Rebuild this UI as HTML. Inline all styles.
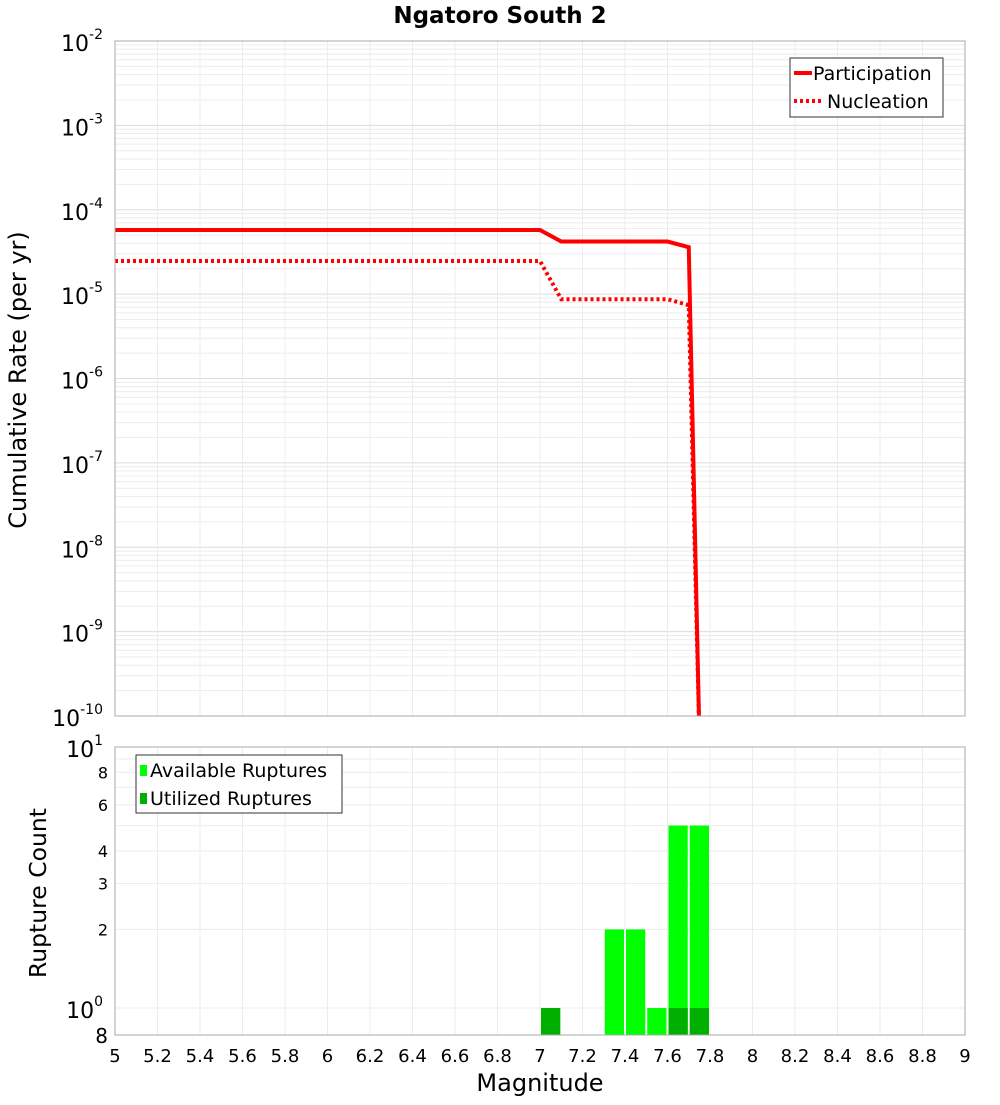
<!DOCTYPE html>
<html><head><meta charset="utf-8"><style>
body{margin:0;background:#fff;font-family:"Liberation Sans","DejaVu Sans",sans-serif}
svg text{font-family:"DejaVu Sans","Liberation Sans",sans-serif}
</style></head><body>
<svg id="c" width="1000" height="1100" xmlns="http://www.w3.org/2000/svg">
<text x="500" y="23" text-anchor="middle" font-size="23" font-weight="bold">Ngatoro South 2</text>
<g id="topg"></g>
<g id="bot"></g>
<text transform="translate(26,380) rotate(-90)" text-anchor="middle" font-size="24">Cumulative Rate (per yr)</text>
<text transform="translate(46,893) rotate(-90)" text-anchor="middle" font-size="23.5">Rupture Count</text>
<text x="540" y="1091" text-anchor="middle" font-size="24">Magnitude</text>
</svg>
<script>
const partMags=[5,7.0,7.1,7.6,7.7,7.75];
const partRates=[5.75e-5,5.75e-5,4.2e-5,4.2e-5,3.6e-5,1e-11];
const nuclMags=[5,7.0,7.1,7.6,7.7,7.75];
const nuclRates=[2.47e-5,2.47e-5,8.7e-6,8.7e-6,7.4e-6,1e-11];
const binCenters=[7.05,7.35,7.45,7.55,7.65,7.75];
const availCounts=[1,2,2,1,5,5];
const utilCounts=[1,0,0,0,1,1];
const xTicks=[5,5.2,5.4,5.6,5.8,6,6.2,6.4,6.6,6.8,7,7.2,7.4,7.6,7.8,8,8.2,8.4,8.6,8.8,9];
const topExps=[-10,-9,-8,-7,-6,-5,-4,-3,-2];
const NS="http://www.w3.org/2000/svg";
const X0=115,X1=965,TY0=41,TY1=716,BY0=747,BY1=1035;
const xs=m=>X0+(m-5)/4*(X1-X0);
const yt=v=>TY0+(-2-Math.log10(v))*(TY1-TY0)/8;
const yb=v=>1008-Math.log10(v)*261;
function el(p,t,a){const e=document.createElementNS(NS,t);for(const k in a)e.setAttribute(k,a[k]);p.appendChild(e);return e;}
const topG=document.getElementById('topg'),bot=document.getElementById('bot');
for(let e=-10;e<-2;e++)for(let k=1;k<10;k++){const y=yt(k*Math.pow(10,e));const g=el(topG,'line',{x1:X0,x2:X1,y1:y,y2:y,stroke:k==1?'#dcdcdc':'#ececec','stroke-width':1});

}
xTicks.forEach(m=>{const g=el(topG,'line',{x1:xs(m),x2:xs(m),y1:TY0,y2:TY1,stroke:'#ececec'});

});
topExps.forEach(e=>{const y=yt(Math.pow(10,e));const t=el(topG,'text',{x:103,y:y+10,'text-anchor':'end','font-size':22});


t.innerHTML='10<tspan dy="-12" font-size="14">'+e+'</tspan>';});
const defs=el(topG,'defs',{});const cp=el(defs,'clipPath',{id:'cp'});el(cp,'rect',{x:X0,y:TY0,width:X1-X0,height:TY1-TY0});
function line(mags,rates,dash,name){const p=el(topG,'polyline',{points:mags.map((m,i)=>xs(m)+','+Math.min(yt(rates[i]),TY1+20)).join(' '),fill:'none',stroke:'#ff0000','stroke-width':4,'stroke-dasharray':dash,'clip-path':'url(#cp)'});

}
line(partMags,partRates,'none','participation-line');
line(nuclMags,nuclRates,'3,3','nucleation-line');
let f=el(topG,'rect',{x:X0,y:TY0,width:X1-X0,height:TY1-TY0,fill:'none',stroke:'#aaa'});


const lg=el(topG,'g',{});


el(lg,'rect',{x:790,y:58,width:153,height:59,fill:'#fff',stroke:'#333'});
el(lg,'line',{x1:794,x2:812,y1:73,y2:73,stroke:'#f00','stroke-width':4});
el(lg,'line',{x1:794,x2:822,y1:101,y2:101,stroke:'#f00','stroke-width':4,'stroke-dasharray':'3,3'});
let t=el(lg,'text',{x:813,y:80,'font-size':19});t.textContent='Participation';
t=el(lg,'text',{x:827,y:108,'font-size':19});t.textContent='Nucleation';
[1,2,3,4,5,6,7,8,9,10].forEach(v=>{const y=yb(v);const g=el(bot,'line',{x1:X0,x2:X1,y1:y,y2:y,stroke:'#ececec'});

});
xTicks.forEach(m=>{const g=el(bot,'line',{x1:xs(m),x2:xs(m),y1:BY0,y2:BY1,stroke:'#ececec'});


const tx=el(bot,'text',{x:xs(m),y:1062,'text-anchor':'middle','font-size':18});tx.textContent=String(m);

});
const bw=(X1-X0)/40;
binCenters.forEach((c,i)=>{const x=xs(c)-bw/2+1;
if(availCounts[i]>0){const r=el(bot,'rect',{x:x,y:yb(availCounts[i]),width:bw-2,height:BY1-yb(availCounts[i]),fill:'#00ff00'});

}
if(utilCounts[i]>0){const r=el(bot,'rect',{x:x,y:yb(utilCounts[i]),width:bw-2,height:BY1-yb(utilCounts[i]),fill:'#00b000'});

}});
f=el(bot,'rect',{x:X0,y:BY0,width:X1-X0,height:BY1-BY0,fill:'none',stroke:'#aaa'});


[8,6,4,3,2].forEach(v=>{const tx=el(bot,'text',{x:108,y:yb(v)+6,'text-anchor':'end','font-size':16});tx.textContent=String(v);

});
[[10,'1'],[1,'0']].forEach(([v,e])=>{const tx=el(bot,'text',{x:103,y:yb(v)+10,'text-anchor':'end','font-size':22});
tx.innerHTML='10<tspan dy="-12" font-size="14">'+e+'</tspan>';

});
t=el(bot,'text',{x:108,y:1043,'text-anchor':'end','font-size':20});t.textContent='8';


const bl=el(bot,'g',{});


el(bl,'rect',{x:136,y:755,width:206,height:58,fill:'#fff',stroke:'#333'});
el(bl,'rect',{x:140,y:765,width:7,height:11,fill:'#00ff00'});
el(bl,'rect',{x:140,y:793,width:7,height:11,fill:'#00b000'});
t=el(bl,'text',{x:150,y:777,'font-size':19});t.textContent='Available Ruptures';
t=el(bl,'text',{x:150,y:805,'font-size':19});t.textContent='Utilized Ruptures';
</script>
</body></html>
